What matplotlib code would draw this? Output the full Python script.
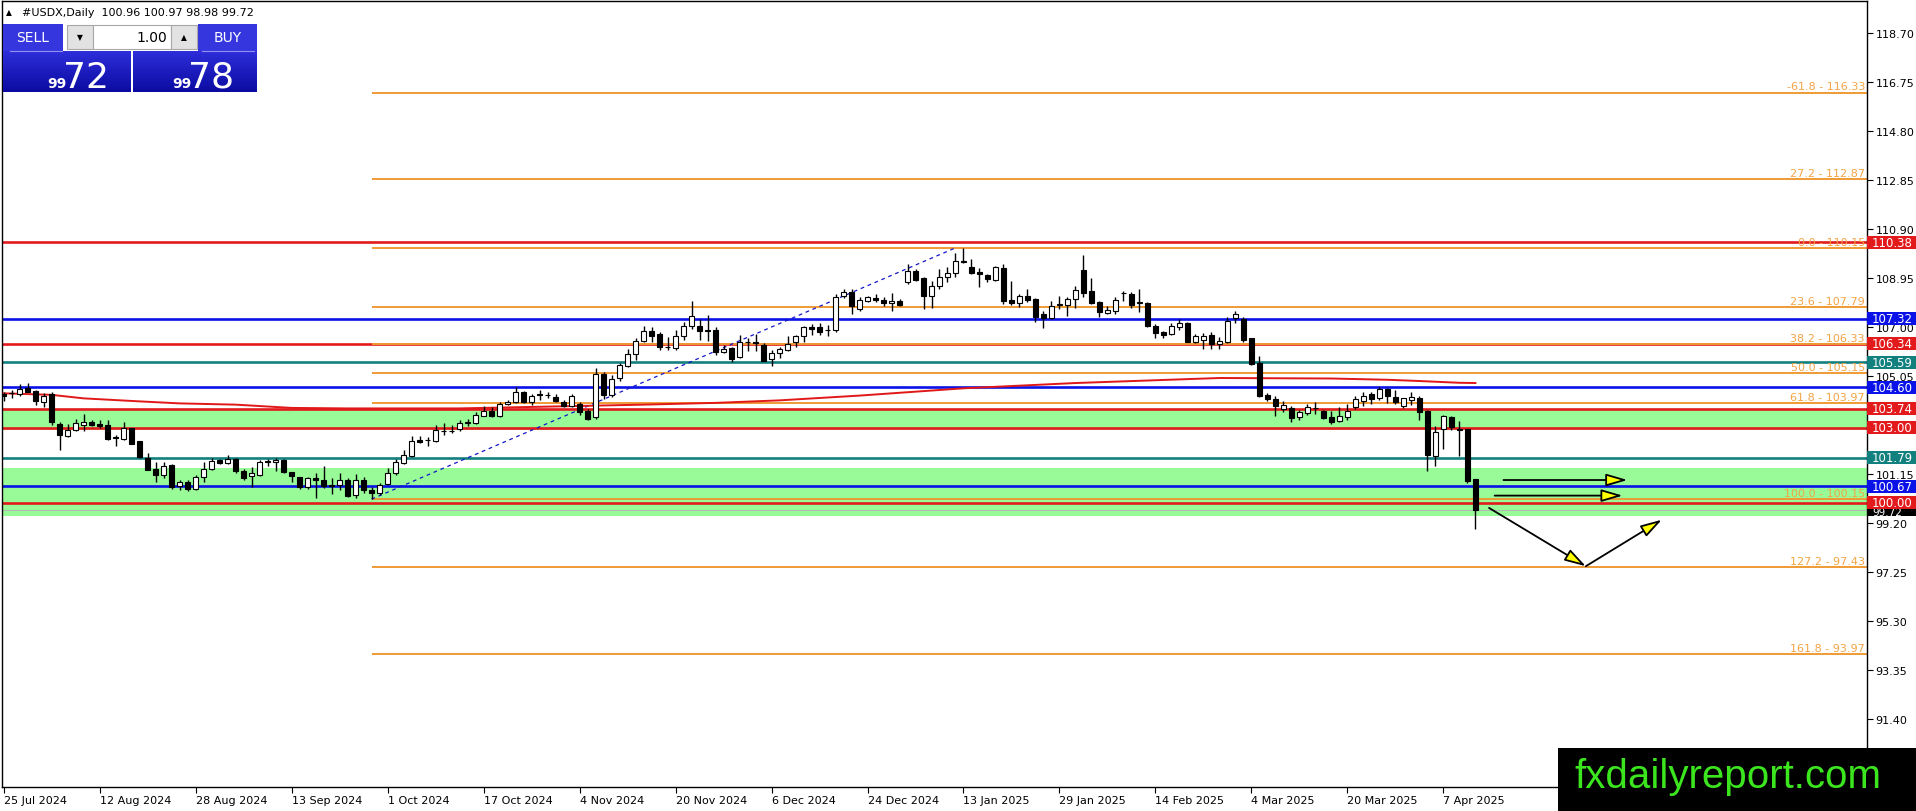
import matplotlib
matplotlib.use('Agg')
import matplotlib.pyplot as plt
import numpy as np
from matplotlib.patches import Rectangle, FancyArrowPatch
from matplotlib.transforms import blended_transform_factory
from matplotlib.colors import LinearSegmentedColormap

W, H = 1916, 812

# daily candles, 25 Jul 2024 .. 11 Apr 2025 (one per trading day)
opens = [104.35, 104.38, 104.34, 104.56, 104.44, 104.00, 104.33, 103.13, 102.68, 102.89,
         103.11, 103.23, 103.14, 103.11, 102.62, 102.54, 102.97, 102.45, 101.77, 101.35,
         101.11, 101.51, 100.66, 100.85, 100.55, 101.02, 101.35, 101.70, 101.59, 101.75,
         101.28, 101.08, 101.12, 101.63, 101.62, 101.72, 101.22, 101.02, 100.62, 100.98,
         100.91, 100.70, 100.71, 100.91, 100.31, 100.91, 100.53, 100.38, 100.75, 101.19,
         101.59, 101.88, 102.52, 102.52, 102.45, 102.88, 102.86, 102.94, 103.18, 103.18,
         103.47, 103.67, 103.44, 103.95, 104.03, 104.40, 104.00, 104.33, 104.30, 104.20,
         104.03, 103.87, 103.94, 103.67, 103.40, 105.13, 104.29, 104.99, 105.46, 105.93,
         106.46, 106.83, 106.72, 106.19, 106.15, 106.63, 107.03, 107.03, 106.87, 106.89,
         106.00, 106.16, 105.80, 106.42, 106.40, 106.28, 105.73, 105.96, 106.10, 106.39,
         106.63, 106.99, 106.99, 106.88, 106.90, 108.22, 108.41, 107.72, 108.02, 108.14,
         108.08, 107.96, 108.05, 108.80, 109.24, 108.94, 108.25, 108.64, 108.98, 109.15,
         109.62, 109.37, 109.20, 109.07, 108.88, 109.33, 108.07, 107.96, 108.22, 108.11,
         107.52, 107.34, 107.88, 107.88, 108.11, 109.27, 108.43, 108.00, 107.56, 107.65,
         108.36, 108.31, 107.95, 107.95, 107.05, 106.79, 106.72, 107.00, 107.16, 106.42,
         106.50, 106.68, 106.33, 106.42, 107.35, 107.32, 106.55, 105.55, 104.31, 104.13,
         103.74, 103.78, 103.40, 103.57, 103.76, 103.67, 103.40, 103.24, 103.40, 103.80,
         104.07, 104.33, 104.18, 104.55, 104.20, 103.86, 104.10, 104.16, 103.67, 101.87,
         102.94, 103.40, 102.96, 102.94, 100.96]
highs = [104.42, 104.50, 104.74, 104.77, 104.50, 104.36, 104.40, 103.22, 103.15, 103.34,
         103.52, 103.30, 103.30, 103.28, 102.70, 103.22, 103.00, 102.47, 101.98, 101.62,
         101.62, 101.54, 100.90, 100.92, 101.10, 101.62, 101.78, 101.75, 101.89, 101.80,
         101.35, 101.42, 101.70, 101.75, 101.78, 101.75, 101.22, 101.05, 101.05, 101.18,
         101.47, 100.98, 101.20, 101.00, 101.15, 101.02, 100.64, 100.80, 101.38, 101.75,
         102.12, 102.66, 102.68, 102.63, 103.08, 103.18, 103.08, 103.30, 103.33, 103.62,
         103.87, 103.80, 104.00, 104.10, 104.62, 104.45, 104.35, 104.50, 104.43, 104.35,
         104.10, 104.33, 104.00, 103.72, 105.38, 105.22, 105.10, 105.55, 106.13, 106.56,
         107.02, 106.98, 106.80, 106.60, 106.90, 107.20, 108.03, 107.30, 107.48, 106.98,
         106.30, 106.20, 106.70, 106.58, 106.72, 106.35, 106.07, 106.20, 106.63, 106.70,
         107.05, 107.12, 107.15, 107.08, 108.30, 108.50, 108.50, 108.20, 108.25, 108.30,
         108.20, 108.35, 108.12, 109.52, 109.30, 109.00, 108.85, 109.30, 109.40, 109.95,
         110.15, 109.70, 109.35, 109.10, 109.42, 109.50, 108.82, 108.30, 108.50, 108.15,
         107.62, 108.05, 108.25, 108.20, 108.62, 109.85, 108.95, 108.05, 107.82, 108.20,
         108.44, 108.40, 108.50, 108.00, 107.12, 106.85, 107.15, 107.33, 107.18, 106.72,
         106.78, 106.80, 106.60, 107.38, 107.65, 107.38, 106.58, 105.85, 104.38, 104.25,
         104.05, 103.85, 103.70, 103.95, 104.03, 103.68, 103.65, 103.80, 103.95, 104.25,
         104.42, 104.42, 104.60, 104.58, 104.48, 104.18, 104.40, 104.25, 103.70, 103.05,
         103.50, 103.45, 103.27, 102.96, 100.97]
lows = [104.05, 104.17, 104.26, 104.40, 103.88, 103.82, 103.10, 102.12, 102.64, 102.86,
        102.88, 103.05, 103.00, 102.50, 102.25, 102.50, 102.33, 101.78, 101.30, 100.85,
        101.00, 100.55, 100.50, 100.48, 100.50, 100.85, 101.30, 101.55, 101.55, 101.20,
        100.92, 100.62, 101.08, 101.45, 101.26, 101.20, 100.82, 100.55, 100.55, 100.20,
        100.60, 100.35, 100.52, 100.25, 100.20, 100.40, 100.15, 100.30, 100.70, 101.12,
        101.55, 101.82, 102.40, 102.25, 102.42, 102.72, 102.78, 102.88, 103.05, 103.15,
        103.45, 103.40, 103.40, 103.90, 103.98, 103.98, 103.88, 104.10, 104.16, 104.00,
        103.82, 103.80, 103.50, 103.28, 103.35, 104.15, 104.20, 104.85, 105.40, 105.70,
        106.42, 106.42, 106.10, 106.08, 106.10, 106.48, 106.93, 106.50, 106.46, 105.90,
        105.98, 105.60, 105.75, 106.05, 106.05, 105.65, 105.45, 105.78, 106.05, 106.20,
        106.40, 106.68, 106.70, 106.65, 106.80, 108.15, 107.52, 107.65, 108.00, 107.98,
        107.82, 107.65, 107.82, 108.70, 108.85, 107.70, 107.75, 108.50, 108.80, 109.00,
        109.55, 109.10, 108.60, 108.78, 108.83, 107.92, 107.88, 107.78, 107.98, 107.18,
        106.95, 107.30, 107.72, 107.45, 107.75, 108.20, 107.92, 107.38, 107.50, 107.50,
        108.05, 107.75, 107.60, 107.00, 106.55, 106.55, 106.68, 106.90, 106.40, 106.38,
        106.12, 106.12, 106.12, 106.38, 107.15, 106.42, 105.50, 104.22, 104.05, 103.45,
        103.62, 103.20, 103.30, 103.50, 103.55, 103.33, 103.15, 103.22, 103.30, 103.75,
        103.85, 103.95, 104.10, 103.98, 103.92, 103.78, 103.90, 103.30, 101.26, 101.45,
        102.15, 102.90, 101.85, 100.80, 98.98]
closes = [104.25, 104.36, 104.55, 104.43, 104.04, 104.27, 103.21, 102.72, 102.92, 103.17,
          103.23, 103.11, 103.06, 102.54, 102.60, 102.97, 102.35, 101.82, 101.32, 101.11,
          101.48, 100.62, 100.85, 100.55, 101.02, 101.35, 101.68, 101.59, 101.75, 101.25,
          100.98, 101.19, 101.61, 101.65, 101.72, 101.22, 101.06, 100.62, 100.98, 100.90,
          100.68, 100.68, 100.91, 100.29, 100.91, 100.53, 100.40, 100.71, 101.19, 101.61,
          101.91, 102.48, 102.43, 102.50, 102.90, 102.86, 102.88, 103.17, 103.20, 103.50,
          103.67, 103.44, 103.93, 104.03, 104.40, 104.03, 104.27, 104.30, 104.28, 104.07,
          103.87, 104.27, 103.63, 103.34, 105.13, 104.29, 104.93, 105.49, 105.92, 106.46,
          106.83, 106.63, 106.19, 106.22, 106.63, 107.03, 107.45, 106.86, 106.86, 106.02,
          106.12, 105.73, 106.42, 106.40, 106.38, 105.66, 105.96, 106.13, 106.32, 106.63,
          106.99, 106.91, 106.81, 106.90, 108.21, 108.41, 107.85, 108.07, 108.21, 108.08,
          107.96, 108.05, 107.88, 109.24, 108.88, 108.25, 108.64, 108.98, 109.15, 109.61,
          109.60, 109.14, 109.10, 108.91, 109.37, 108.05, 107.94, 108.25, 108.07, 107.38,
          107.34, 107.85, 107.90, 108.11, 108.47, 108.35, 107.95, 107.58, 107.69, 108.06,
          108.35, 107.88, 108.00, 107.03, 106.76, 106.68, 107.05, 107.16, 106.42, 106.63,
          106.66, 106.33, 106.46, 107.25, 107.52, 106.50, 105.53, 104.27, 104.13, 103.87,
          103.90, 103.36, 103.60, 103.80, 103.78, 103.36, 103.20, 103.44, 103.66, 104.13,
          104.26, 104.13, 104.55, 104.24, 104.02, 104.16, 104.21, 103.63, 101.90, 102.83,
          103.47, 103.04, 102.91, 100.88, 99.72]

# date axis labels (every 12th bar)
date_labels = ['25 Jul 2024', '12 Aug 2024', '28 Aug 2024', '13 Sep 2024', '1 Oct 2024',
               '17 Oct 2024', '4 Nov 2024', '20 Nov 2024', '6 Dec 2024', '24 Dec 2024',
               '13 Jan 2025', '29 Jan 2025', '14 Feb 2025', '4 Mar 2025', '20 Mar 2025',
               '7 Apr 2025']
price_ticks = [118.70, 116.75, 114.80, 112.85, 110.90, 108.95, 107.00, 105.05, 103.10,
               101.15, 99.20, 97.25, 95.30, 93.35, 91.40]

# moving average (read at a few bars)
ma_bars = [0, 6, 10, 17, 22, 29, 36, 43, 57, 80, 89, 97, 107, 120, 134, 152, 166, 173, 177, 182, 184]
ma_values = [104.36, 104.30, 104.16, 104.04, 103.96, 103.91, 103.78, 103.76, 103.76, 103.91,
             103.98, 104.08, 104.27, 104.56, 104.77, 104.97, 104.95, 104.90, 104.85, 104.78, 104.77]

# horizontal support / resistance lines
level_prices = [110.38, 107.32, 106.34, 105.59, 104.60, 103.74, 103.00, 101.79, 100.67, 100.00]
level_kinds = ['red', 'blue', 'red', 'teal', 'blue', 'red', 'red', 'teal', 'blue', 'red']
zones = [(102.90, 103.74), (99.48, 101.40)]
bid_price = 99.72

# fibonacci retracement (low 27 Sep -> high Jan)
fib_anchor_bars = [46, 119]
fib_anchor_prices = [100.15, 110.15]
fib_names = ['-61.8', '27.2', '0.0', '23.6', '38.2', '50.0', '61.8', '100.0', '127.2', '161.8']
fib_prices = [116.33, 112.87, 110.15, 107.79, 106.33, 105.15, 103.97, 100.15, 97.43, 93.97]

# hand drawn arrows: (bar, price) -> (bar, price)
arrow_paths = [((187.5, 100.91), (203.0, 100.91)),
               ((186.4, 100.29), (202.4, 100.29)),
               ((185.7, 99.80), (197.8, 97.48)),
               ((197.8, 97.48), (207.3, 99.33))]

palette = {'red': '#E31A1C', 'blue': '#0A12E8', 'teal': '#11807F'}
fib_color = '#EF9A35'
fib_text = '#F2A445'

fig = plt.figure(figsize=(W / 100, H / 100), dpi=100)
ax = fig.add_axes([2 / W, 24 / H, 1865 / W, 786 / H])
ax.set_xlim(-0.2, 232.95)
ax.set_ylim(88.694, 119.973)

for lo, hi in zones:
    ax.axhspan(lo, hi, color='#98FB98', lw=0, zorder=1)
ax.axhline(bid_price, color='#B5B5B5', lw=0.7, zorder=1.5)

for p, k in zip(level_prices, level_kinds):
    ax.axhline(p, color=palette[k], lw=1.9, zorder=2)

bt = blended_transform_factory(ax.transAxes, ax.transData)
for name, p in zip(fib_names, fib_prices):
    ax.hlines(p, fib_anchor_bars[0], 232.95, color=fib_color, lw=1.4, zorder=2.2)
    ax.text(1 - 2 / 1865, p + 0.05, f'{name} - {p:.2f}', transform=bt, ha='right', va='bottom',
            fontsize=8, color=fib_text, zorder=6)

ax.plot(fib_anchor_bars, fib_anchor_prices, color='#1515C8', lw=0.9, ls=(0, (3, 3)), zorder=3)
ax.plot(ma_bars, ma_values, color='#E01818', lw=1.4, zorder=3)

o = np.array(opens)
c = np.array(closes)
bars = np.arange(len(o))
ax.vlines(bars, lows, highs, color='black', lw=1.0, zorder=4)
body_h = np.maximum(np.abs(c - o), 0.02)
ax.bar(bars, body_h, bottom=np.minimum(o, c), width=0.66,
       color=np.where(c >= o, 'white', 'black'), edgecolor='black', lw=0.8, zorder=5)

for (x0, y0), (x1, y1) in arrow_paths:
    ax.add_patch(FancyArrowPatch((x0, y0), (x1, y1), arrowstyle='-|>,head_length=1.3,head_width=0.38',
                                 mutation_scale=10, facecolor='#FFFF00', edgecolor='black', lw=1.3,
                                 shrinkA=0, shrinkB=0, zorder=7))

# axes
ax.yaxis.tick_right()
ax.set_yticks(price_ticks)
ax.set_yticklabels([f'{v:.2f}' for v in price_ticks])
ax.set_xticks(np.arange(len(date_labels)) * 12)
ax.set_xticklabels(date_labels)
for lbl in ax.get_xticklabels():
    lbl.set_horizontalalignment('left')
ax.tick_params(axis='both', direction='out', length=4, width=0.8, labelsize=8, pad=2)
for s in ax.spines.values():
    s.set_linewidth(1.0)

# price labels on the right scale; the bid tag sits half hidden under 100.00
box_w = 49 / 1865
box_h = 13 / 25.128
ax.add_patch(Rectangle((1.0, bid_price - box_h / 2), box_w, box_h, transform=bt,
                       facecolor='black', edgecolor='none', clip_on=False, zorder=10))
bid_txt = ax.text(1.0 + 5 / 1865, bid_price - 0.1, f'{bid_price:.2f}', transform=bt, color='white',
                  fontsize=7.5, va='center', ha='left', zorder=10.5)
bid_txt.set_clip_path(Rectangle((1.0, bid_price - box_h / 2), box_w, 0.17, transform=bt))
for p, k in zip(level_prices, level_kinds):
    ax.add_patch(Rectangle((1.0, p - box_h / 2), box_w, box_h, transform=bt, facecolor=palette[k],
                           edgecolor='none', clip_on=False, zorder=11))
    ax.text(1.0 + 5 / 1865, p, f'{p:.2f}', transform=bt, color='white', fontsize=8.5,
            va='center', ha='left', zorder=12, clip_on=False)

# overlay in pixel coordinates: header, trade panel, logo
ov = fig.add_axes([0, 0, 1, 1], facecolor='none')
ov.set_autoscale_on(False)
ov.set_xlim(0, W)
ov.set_ylim(H, 0)
ov.axis('off')

def box(x0, y0, x1, y1, fc, ec='none', lw=0):
    ov.add_patch(Rectangle((x0, y0), x1 - x0, y1 - y0, facecolor=fc, edgecolor=ec, lw=lw))

ov.text(6, 13, '▲', fontsize=5.5, va='center', ha='left')
ov.text(22, 13, '#USDX,Daily  100.96 100.97 98.98 99.72', fontsize=8, va='center', ha='left')

grad = LinearSegmentedColormap.from_list('panel', ['#2E2EDA', '#0B0BA2'])
for x0, x1 in [(3, 131), (133, 257)]:
    ov.imshow(np.linspace(0, 1, 60).reshape(-1, 1), cmap=grad, extent=(x0, x1, 93, 52), aspect='auto')
box(3, 25, 63, 52, '#3636DE')
box(198, 25, 257, 52, '#3636DE')
ov.plot([10, 62], [52, 52], color='#9090F0', lw=0.8)
ov.plot([202, 254], [52, 52], color='#9090F0', lw=0.8)
ov.text(33, 38.5, 'SELL', color='white', fontsize=10, ha='center', va='center')
ov.text(228, 38.5, 'BUY', color='white', fontsize=10, ha='center', va='center')
box(67, 26, 93, 50, '#E2E2E2', '#A8A8A8', 0.8)
box(93, 26, 171, 50, 'white', '#A8A8A8', 0.8)
box(171, 26, 197, 50, '#E2E2E2', '#A8A8A8', 0.8)
ov.text(80, 38, '▼', fontsize=5.5, ha='center', va='center')
ov.text(184, 38, '▲', fontsize=5.5, ha='center', va='center')
ov.text(167, 38.5, '1.00', fontsize=10, ha='right', va='center')
ov.text(47, 88, '99', color='white', fontsize=10, fontweight='bold', ha='left', va='baseline')
ov.text(63, 88, '72', color='white', fontsize=26, ha='left', va='baseline')
ov.text(172, 88, '99', color='white', fontsize=10, fontweight='bold', ha='left', va='baseline')
ov.text(188, 88, '78', color='white', fontsize=26, ha='left', va='baseline')

box(1558, 749, 1916, 812, 'black')
ov.text(1574, 788, 'fxdailyreport.com', color='#3CE61E', fontsize=29,
        family='Liberation Sans', ha='left', va='baseline')

fig.savefig('out.png', dpi=100)
